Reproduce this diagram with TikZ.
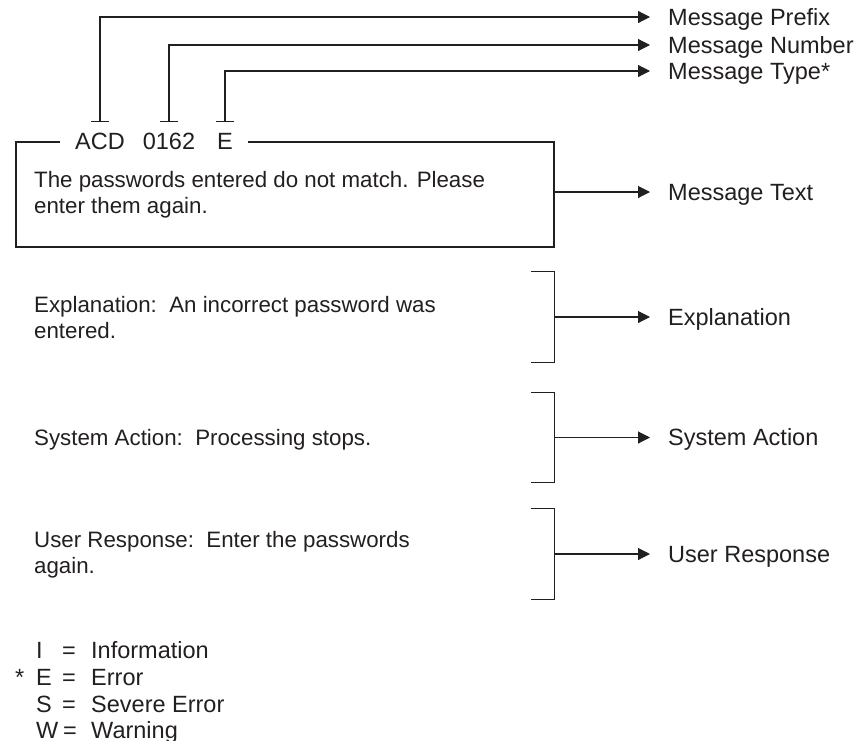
\documentclass[tikz,border=0pt]{standalone}
\usepackage{fontspec}
\setmainfont{Liberation Sans}
\usetikzlibrary{arrows.meta,positioning,fit,backgrounds}
\definecolor{InkGray}{HTML}{231F20}
\tikzset{
  body/.style={anchor=base west,inner sep=0pt,align=left,text=InkGray,font=\fontsize{22.3}{25.5}\selectfont},
  field/.style={inner sep=0pt,text height=16.8pt,text depth=0pt,text=InkGray,font=\fontsize{23.5}{26}\selectfont},
  tag/.style={anchor=west,inner sep=0pt,inner xsep=18pt,text height=16.8pt,text depth=0pt,text=InkGray,font=\fontsize{23.5}{26}\selectfont},
  key/.style={anchor=base west,inner sep=0pt,text=InkGray,font=\fontsize{23.5}{26}\selectfont},
  frame/.style={draw=InkGray,line width=1.1pt,inner sep=0pt},
  brace/.style={minimum width=23pt,minimum height=90pt,inner sep=0pt},
  arrow/.style={-{Triangle[length=12pt,width=12pt]},line width=1.1pt,draw=InkGray},
  tee/.style={{Bar[width=18pt]}-{Triangle[length=12pt,width=12pt]},line width=1.1pt,draw=InkGray},
}

\begin{document}
\begin{tikzpicture}[x=1pt,y=-1pt]
  \useasboundingbox (0,0) rectangle (859,740);

  % message id fields
  \node[field] (pfx) at (100,141) {ACD};
  \node[field] (num) at (169,141) {0162};
  \node[field] (typ) at (225,141) {E};

  % message box, its top edge broken by the id
  \begin{scope}[on background layer]
    \node[frame,minimum width=538pt,minimum height=105pt] (msg) at (285,194.5) {};
    \node[fill=white,inner xsep=15pt,inner ysep=3pt,fit=(pfx)(num)(typ)] (gap) {};
  \end{scope}
  % (base of a two line node is its last line)
  \node[body] (msgtxt) at (34,213) {The passwords entered do not match. Please\\enter them again.};

  % right hand labels
  \node[tag] (lpfx) at (650,17) {Message Prefix};
  \node[tag] (lnum) at (650,45) {Message Number};
  \node[tag] (ltyp) at (650,71) {Message Type*};
  \node[tag] (ltext) at (650,192) {Message Text};
  \node[tag] (lexpl) at (650,317) {Explanation};
  \node[tag] (lsys) at (650,437.5) {System Action};
  \node[tag] (lusr) at (650,554) {User Response};

  \draw[tee] ([yshift=10pt]pfx.north) |- (lpfx.west);
  \draw[tee] ([yshift=10pt]num.north) |- (lnum.west);
  \draw[tee] ([yshift=10pt]typ.north) |- (ltyp.west);
  \draw[arrow] (msg.east |- ltext.west) -- (ltext.west);

  % explanation, action and response sections
  \node[body] (expltxt) at (34,338) {Explanation:\ \ An incorrect password was\\entered.};
  \node[body] (systxt) at (34,445) {System Action:\ \ Processing stops.};
  \node[body] (usrtxt) at (34,573) {User Response:\ \ Enter the passwords\\again.};

  \node[brace] (expl) at (542.5,317) {};
  \node[brace] (sys) at (542.5,437.5) {};
  \node[brace] (usr) at (542.5,554) {};
  \draw[frame] (expl.north west) -- (expl.north east) -- (expl.south east) -- (expl.south west);
  \draw[frame] (sys.north west) -- (sys.north east) -- (sys.south east) -- (sys.south west);
  \draw[frame] (usr.north west) -- (usr.north east) -- (usr.south east) -- (usr.south west);
  \draw[arrow] (expl.east) -- (lexpl.west);
  \draw[arrow] (sys.east) -- (lsys.west);
  \draw[arrow] (usr.east) -- (lusr.west);

  % message type legend
  \node[key] (ki) at (36,658) {I};
  \node[key] (ke) at (36,685) {E};
  \node[key] (ks) at (36,712) {S};
  \node[key] (kw) at (36,738) {W};
  \node[key] (star) at (15,685) {*};
  \node[key] (qi) at (62,658) {=};
  \node[key] (qe) at (62,685) {=};
  \node[key] (qs) at (62,712) {=};
  \node[key] (qw) at (63,738) {=};
  \node[key] (wi) at (91,658) {Information};
  \node[key] (we) at (91,685) {Error};
  \node[key] (ws) at (91,712) {Severe Error};
  \node[key] (ww) at (91,738) {Warning};
\end{tikzpicture}
\end{document}
